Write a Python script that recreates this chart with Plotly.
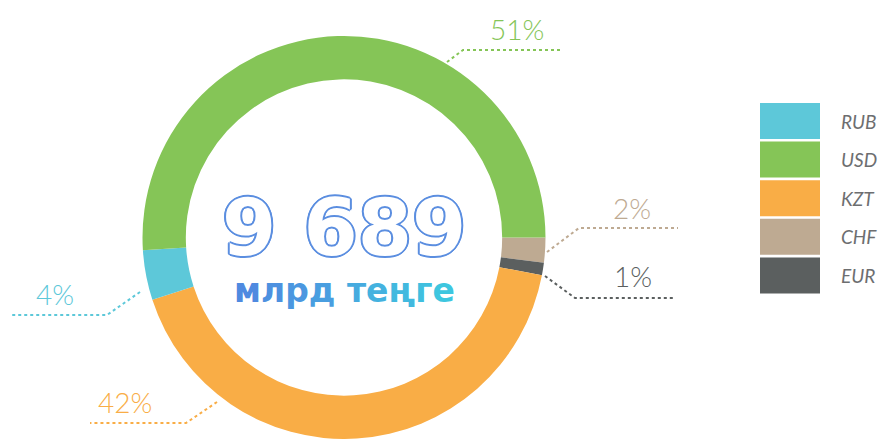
import plotly.graph_objects as go

# ---- data ----
categories = ["RUB", "USD", "KZT", "CHF", "EUR"]          # legend order
shares = [4, 51, 42, 2, 1]                                  # percent
colors = ["#5dc8d9", "#85c557", "#f9ad46", "#beaa92", "#5b5f5f"]
pie_order = ["CHF", "EUR", "KZT", "RUB", "USD"]             # clockwise from 3 o'clock
total_value = "9 689"
total_unit = "млрд теңге"

W, H = 882, 439

def px(x, y):
    return x / W, 1 - y / H

idx = {c: i for i, c in enumerate(categories)}
pie_vals = [shares[idx[c]] for c in pie_order]
pie_cols = [colors[idx[c]] for c in pie_order]

R = 201.5
cx = 344
fig = go.Figure(go.Pie(
    labels=pie_order,
    values=pie_vals,
    marker=dict(colors=pie_cols, line=dict(width=0)),
    sort=False,
    direction="clockwise",
    rotation=90,
    hole=0.785,
    textinfo="none",
    hoverinfo="label+percent",
    showlegend=False,
    domain=dict(x=[(cx - R) / W, (cx + R) / W], y=[0, 2 * R / H]),
))

annotations = []
shapes = []

# percent labels with dotted leaders (pixel layout)
label_layout = {
    "USD": dict(text=(517, 29), pts=[(447, 62), (463, 50), (563, 50)]),
    "CHF": dict(text=(632, 208), pts=[(547, 252), (579, 228), (678, 228)]),
    "EUR": dict(text=(633, 276), pts=[(545, 276), (575, 298), (673, 298)]),
    "RUB": dict(text=(55, 294), pts=[(140, 292), (107, 315), (10, 315)]),
    "KZT": dict(text=(125, 402), pts=[(217, 402), (186, 423), (90, 423)]),
}
for c in pie_order:
    lay = label_layout[c]
    col = colors[idx[c]]
    tx, ty = px(*lay["text"])
    annotations.append(dict(x=tx, y=ty, xref="paper", yref="paper", showarrow=False,
                            text=f"{shares[idx[c]]}%",
                            font=dict(family="Lato", size=28, color=col, weight=300),
                            xanchor="center", yanchor="middle"))
    pts = lay["pts"]
    path = "M " + " L ".join(f"{px(x, y)[0]},{px(x, y)[1]}" for x, y in pts)
    shapes.append(dict(type="path", xref="paper", yref="paper", path=path,
                       line=dict(color=col, width=2, dash="dot")))

# legend (custom squares)
for i, c in enumerate(categories):
    top = 103 + i * 38.6
    x0, y0 = px(760, top)
    x1, y1 = px(820, top + 36)
    shapes.append(dict(type="rect", xref="paper", yref="paper", x0=x0, x1=x1, y0=y1, y1=y0,
                       fillcolor=colors[i], line=dict(width=0)))
    lx, ly = px(839, top + 18)
    annotations.append(dict(x=lx, y=ly, xref="paper", yref="paper", showarrow=False,
                            text=c, xanchor="left", yanchor="middle",
                            font=dict(family="Lato", size=19, color="#6d6e70", style="italic",
                                      weight=400)))

# center text
oc = "#5b8ee0"
shadow = ", ".join(f"{dx}px {dy}px 0 {oc}" for dx, dy in
                   [(2, 0), (-2, 0), (0, 2), (0, -2), (1.4, 1.4), (-1.4, 1.4), (1.4, -1.4), (-1.4, -1.4)])
vx, vy = px(344, 228)
annotations.append(dict(x=vx, y=vy, xref="paper", yref="paper", showarrow=False,
                        text=total_value, xanchor="center", yanchor="middle",
                        font=dict(family="DejaVu Sans", size=78, color="white", weight="bold",
                                  shadow=shadow)))

def lerp(c1, c2, t):
    a = [int(c1[i:i + 2], 16) for i in (1, 3, 5)]
    b = [int(c2[i:i + 2], 16) for i in (1, 3, 5)]
    return "#" + "".join(f"{round(a[k] + (b[k] - a[k]) * t):02x}" for k in range(3))

n = len(total_unit)
spans = "".join(
    f"<span style='color:{lerp('#4f8ae0', '#3ec6df', i / (n - 1))}'>{ch}</span>"
    for i, ch in enumerate(total_unit))
ux, uy = px(344, 290)
annotations.append(dict(x=ux, y=uy, xref="paper", yref="paper", showarrow=False,
                        text=spans, xanchor="center", yanchor="middle",
                        font=dict(family="DejaVu Sans", size=33, weight="bold")))

fig.update_layout(
    width=W, height=H,
    margin=dict(l=0, r=0, t=0, b=0),
    paper_bgcolor="white", plot_bgcolor="white",
    annotations=annotations, shapes=shapes,
)

fig.write_html("out.html", config={"displayModeBar": False},
               post_script="document.body.style.margin='0';document.body.style.overflow='hidden';")
